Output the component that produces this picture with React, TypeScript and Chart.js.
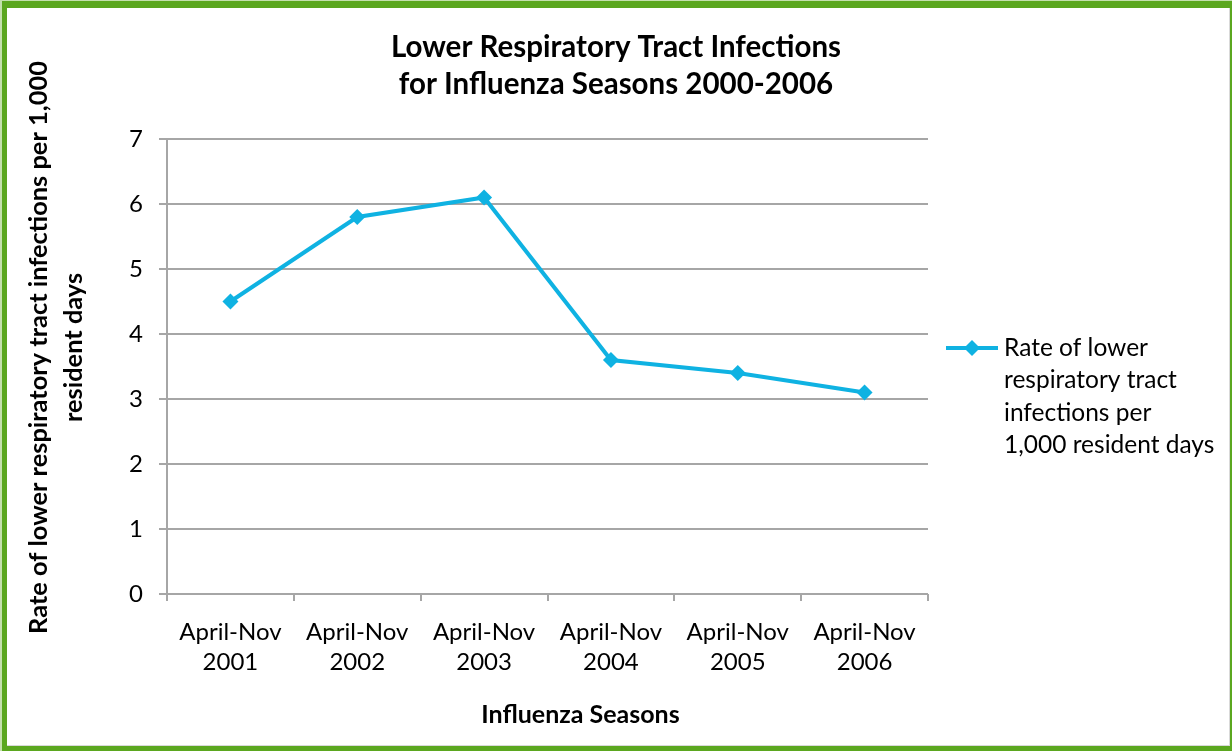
import React, { useEffect, useRef } from 'react';
import { Chart, registerables } from 'chart.js';

Chart.register(...registerables);

const titleLines = ['Lower Respiratory Tract Infections', 'for Influenza Seasons 2000-2006'];
const categories = [
  ['April-Nov', '2001'],
  ['April-Nov', '2002'],
  ['April-Nov', '2003'],
  ['April-Nov', '2004'],
  ['April-Nov', '2005'],
  ['April-Nov', '2006'],
];
const seriesLabel = 'Rate of lower respiratory tract infections per 1,000 resident days';
const legendLines = ['Rate of lower', 'respiratory tract', 'infections per', '1,000 resident days'];
const seriesValues = [4.5, 5.8, 6.1, 3.6, 3.4, 3.1];
const yMin = 0;
const yMax = 7;
const yStep = 1;
const yTitleLines = ['Rate of lower respiratory tract infections per 1,000', 'resident days'];
const xTitle = 'Influenza Seasons';

const FONT = 'Lato';
const LINE_COLOR = '#0fb2e2';
const GRID_COLOR = '#a6a6a6';

const borderPlugin = {
  id: 'frameBorder',
  beforeDraw(chart: any) {
    const { ctx, width, height } = chart;
    ctx.save();
    ctx.fillStyle = '#c4e0ad';
    ctx.fillRect(0, 0, width, height);
    ctx.fillStyle = '#5ba71f';
    ctx.fillRect(2, 1, width - 2, height - 1);
    ctx.fillStyle = '#d9d9d9';
    ctx.fillRect(7, 8, width - 9, height - 13);
    ctx.fillStyle = '#ffffff';
    ctx.fillRect(7, 8, width - 10, height - 14);
    ctx.restore();
  },
};

const textPlugin = {
  id: 'sideLegendAndAxisTitles',
  afterDraw(chart: any) {
    const { ctx, chartArea } = chart;
    const ds = chart.data.datasets[0];
    const x0 = chartArea.right + 18;
    const y0 = 348;
    const boxW = 52;
    ctx.save();
    ctx.strokeStyle = ds.borderColor;
    ctx.lineWidth = 4;
    ctx.beginPath();
    ctx.moveTo(x0, y0);
    ctx.lineTo(x0 + boxW, y0);
    ctx.stroke();
    ctx.fillStyle = ds.backgroundColor;
    const r = 8;
    const cx = x0 + boxW / 2;
    ctx.beginPath();
    ctx.moveTo(cx, y0 - r);
    ctx.lineTo(cx + r, y0);
    ctx.lineTo(cx, y0 + r);
    ctx.lineTo(cx - r, y0);
    ctx.closePath();
    ctx.fill();
    ctx.fillStyle = '#000000';
    ctx.font = `24.5px ${FONT}`;
    ctx.textBaseline = 'middle';
    ctx.textAlign = 'left';
    legendLines.forEach((line, i) => {
      ctx.fillText(line, x0 + boxW + 6, y0 + i * 32.5);
    });
    // x axis title
    ctx.font = `bold 25px ${FONT}`;
    ctx.textAlign = 'center';
    ctx.fillText(xTitle, (chartArea.left + chartArea.right) / 2 + 33, 715);
    // y axis title
    ctx.font = `bold 25.4px ${FONT}`;
    ctx.translate(38.5, 347.5);
    ctx.rotate(-Math.PI / 2);
    yTitleLines.forEach((line, i) => {
      ctx.fillText(line, 0, i * 35.5);
    });
    ctx.restore();
  },
};

export default function App() {
  const ref = useRef<HTMLCanvasElement | null>(null);

  useEffect(() => {
    if (!ref.current) return;
    const chart = new Chart(ref.current, {
      type: 'line',
      data: {
        labels: categories,
        datasets: [
          {
            label: seriesLabel,
            data: seriesValues,
            borderColor: LINE_COLOR,
            backgroundColor: LINE_COLOR,
            borderWidth: 4,
            pointStyle: 'rectRot',
            pointRadius: 8,
            pointBorderWidth: 0,
            pointBackgroundColor: LINE_COLOR,
            tension: 0,
            yAxisID: 'y',
          },
        ],
      },
      options: {
        responsive: false,
        animation: false,
        layout: { padding: 0 },
        plugins: {
          legend: { display: false },
          tooltip: { enabled: false },
          title: {
            display: true,
            text: titleLines,
            color: '#000000',
            font: { family: FONT, size: 29.5, weight: 'bold', lineHeight: 37 / 29.5 },
            padding: { top: 28.5, bottom: 36.5 },
          },
        },
        scales: {
          x: {
            type: 'category',
            offset: true,
            grid: {
              display: true,
              offset: true,
              drawOnChartArea: false,
              drawTicks: true,
              tickLength: 7,
              color: GRID_COLOR,
              lineWidth: 2,
            },
            border: { display: false },
            ticks: {
              color: '#000000',
              font: { family: FONT, size: 24, lineHeight: 30 / 24 },
              padding: 16,
              maxRotation: 0,
              autoSkip: false,
            },
            title: { display: false, text: xTitle },
            afterFit(scale: any) {
              scale.height = 157;
            },
          },
          y: {
            type: 'linear',
            position: 'left',
            min: yMin,
            max: yMax,
            grid: {
              display: true,
              drawOnChartArea: true,
              drawTicks: true,
              tickLength: 8,
              color: GRID_COLOR,
              lineWidth: 2,
            },
            border: { display: true, color: GRID_COLOR, width: 2 },
            ticks: {
              stepSize: yStep,
              color: '#000000',
              font: { family: FONT, size: 24 },
              padding: 16,
            },
            title: { display: false, text: yTitleLines },
            afterFit(scale: any) {
              scale.width = 167;
            },
          },
          legendSpace: {
            type: 'linear',
            position: 'right',
            display: false,
            afterFit(scale: any) {
              scale.width = 304;
            },
          },
        },
      },
      plugins: [borderPlugin, textPlugin],
    } as any);
    return () => chart.destroy();
  }, []);

  return (
    <div style={{ position: 'fixed', left: 0, top: 0, width: 1232, height: 751 }}>
      <canvas ref={ref} width={1232} height={751} style={{ display: 'block', width: 1232, height: 751 }} />
    </div>
  );
}
